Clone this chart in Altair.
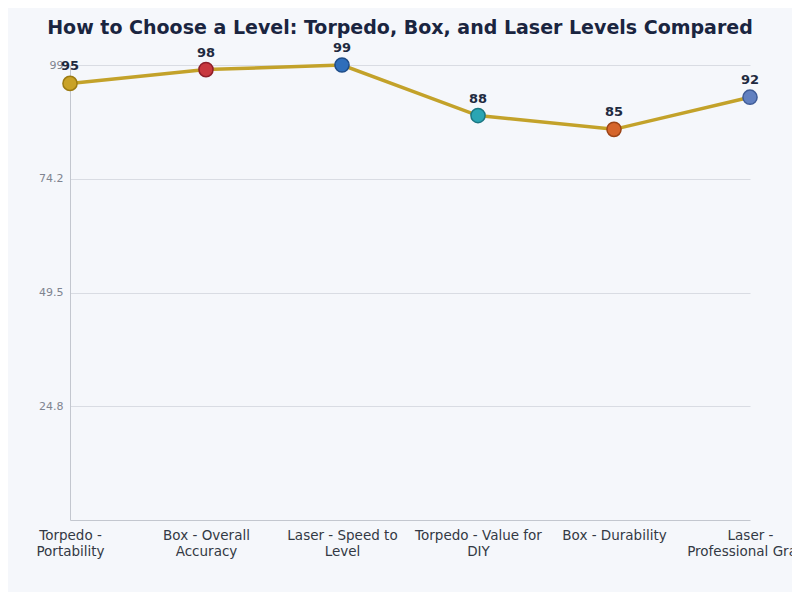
import altair as alt
import pandas as pd

categories = [
    "Torpedo - Portability",
    "Box - Overall Accuracy",
    "Laser - Speed to Level",
    "Torpedo - Value for DIY",
    "Box - Durability",
    "Laser - Professional Grade",
]
wrapped = [
    ["Torpedo -", "Portability"],
    ["Box - Overall", "Accuracy"],
    ["Laser - Speed to", "Level"],
    ["Torpedo - Value for", "DIY"],
    ["Box - Durability"],
    ["Laser -", "Professional Grade"],
]
scores = [95, 98, 99, 88, 85, 92]
point_colors = ["#C9A227", "#C8383F", "#2F6EBA", "#2AA5B3", "#D5652B", "#6180C0"]
point_strokes = ["#9C7B12", "#8E1F2A", "#1E4C88", "#1B7682", "#9C4416", "#3E5B97"]
y_ticks = [24.8, 49.5, 74.2, 99]

df = pd.DataFrame({"category": categories, "score": scores,
                   "fill": point_colors, "stroke": point_strokes})

label_expr = " : ".join(
    f"datum.label == '{c}' ? {w}" for c, w in zip(categories, wrapped)
) + " : datum.label"

x = alt.X("category:N", sort=categories, title=None,
          scale=alt.Scale(type="point", padding=0),
          axis=alt.Axis(labelAngle=0, labelExpr=label_expr, labelFont="DejaVu Sans",
                        labelFontSize=13.5, labelColor="#333944", labelPadding=8,
                        labelLineHeight=16, ticks=False, grid=False,
                        domainColor="#c3c7cf", labelBaseline="top"))
y = alt.Y("score:Q", title=None,
          scale=alt.Scale(domain=[0, 99], nice=False, zero=True),
          axis=alt.Axis(values=y_ticks,
                        labelExpr="datum.value == 99 ? '99' : format(datum.value, '.1f')",
                        labelFont="DejaVu Sans", labelFontSize=11,
                        labelColor="#7f8490", labelPadding=7, ticks=False,
                        grid=True, gridColor="#d9dce3", gridWidth=1,
                        domainColor="#c3c7cf"))

base = alt.Chart(df).encode(x=x, y=y)

line = base.mark_line(color="#C3A22A", strokeWidth=3.5)
points = base.mark_point(filled=True, size=200, opacity=1, strokeWidth=1.5).encode(
    fill=alt.Fill("fill:N", scale=None),
    stroke=alt.Stroke("stroke:N", scale=None),
)
labels = base.mark_text(dy=-10, baseline="bottom", font="DejaVu Sans", fontSize=13,
                        fontWeight="bold", color="#1f2a40").encode(text="score:Q")

chart = (line + points + labels).properties(
    width=680, height=455,
    autosize=alt.AutoSizeParams(type="none"),
    padding={"left": 62, "top": 57, "right": 42, "bottom": 72},
    background="#f5f7fb",
    title=alt.TitleParams("How to Choose a Level: Torpedo, Box, and Laser Levels Compared",
                          font="DejaVu Sans", fontSize=19, fontWeight="bold",
                          color="#1a2540", anchor="middle", offset=4, dx=-10),
).configure_view(stroke=None)

chart.save("out.html", embed_options={"renderer": "svg", "actions": False})
